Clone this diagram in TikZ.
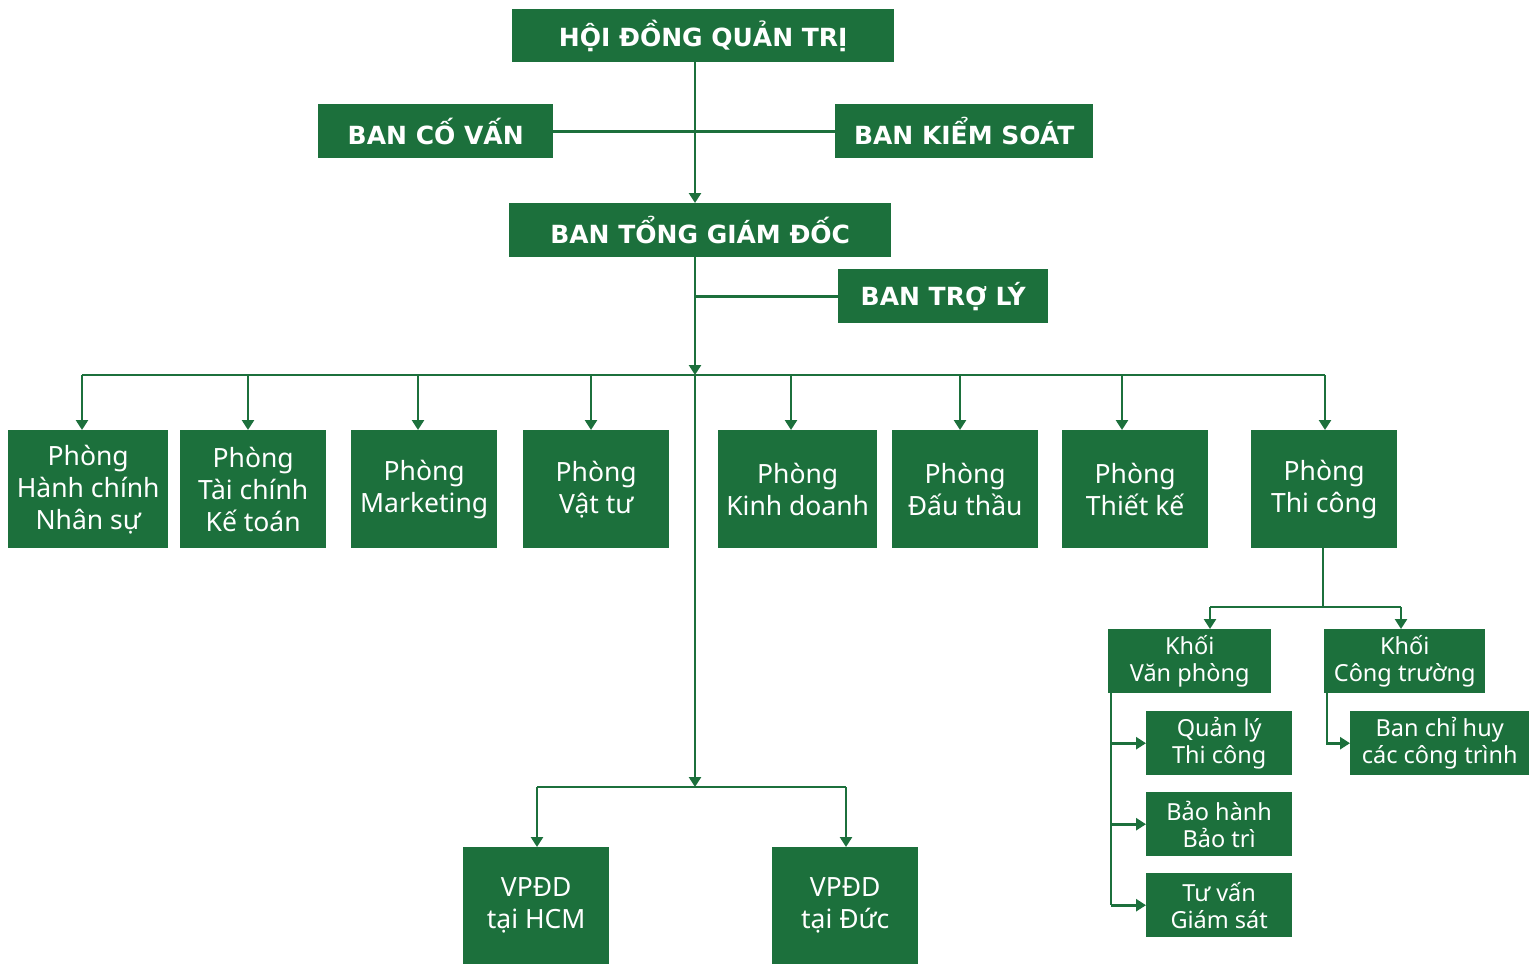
\documentclass[tikz,border=0pt]{standalone}
\usepackage{fontspec}
\setmainfont{Noto Sans}
\newfontfamily\hdrfont{DejaVu Sans}
\usetikzlibrary{arrows.meta}
\definecolor{vg}{RGB}{28,112,60}
\begin{document}
\begin{tikzpicture}[x=1pt,y=-1pt,
  box/.style={fill=vg, text=white, inner sep=0pt, align=center, anchor=north west},
  hdr/.style={box, font=\hdrfont\bfseries\fontsize{25}{30}\selectfont},
  dept/.style={box, font=\fontsize{26.5}{32}\selectfont},
  sm/.style={box, font=\fontsize{23.5}{27}\selectfont},
  ln/.style={draw=vg, line width=2.8pt},
  arr/.style={ln, -{Triangle[width=12pt,length=10pt]}}]
\useasboundingbox (0,0) rectangle (1529,964);
% top
\node[hdr, minimum width=382pt, minimum height=53pt] (hdqt) at (512,9) {HỘI ĐỒNG QUẢN TRỊ};
\node[hdr, minimum width=235pt, minimum height=54pt] (bcv) at (318,104) {BAN CỐ VẤN};
\node[hdr, minimum width=258pt, minimum height=54pt] (bks) at (835,104) {BAN KIỂM SOÁT};
\node[hdr, minimum width=382pt, minimum height=54pt] (btgd) at (509,203) {BAN TỔNG GIÁM ĐỐC};
\node[hdr, minimum width=210pt, minimum height=54pt] (btl) at (838,269) {BAN TRỢ LÝ};
% departments
\node[dept, minimum width=160pt, minimum height=118pt] (hc) at (8,430) {Phòng\\Hành chính\\Nhân sự};
\node[dept, minimum width=146pt, minimum height=118pt] (tcn) at (180,430) {Phòng\\Tài chính\\Kế toán};
\node[dept, minimum width=146pt, minimum height=118pt] (mk) at (351,430) {Phòng\\Marketing};
\node[dept, minimum width=146pt, minimum height=118pt] (vt) at (523,430) {Phòng\\Vật tư};
\node[dept, minimum width=159pt, minimum height=118pt] (kd) at (718,430) {Phòng\\Kinh doanh};
\node[dept, minimum width=146pt, minimum height=118pt] (dt) at (892,430) {Phòng\\Đấu thầu};
\node[dept, minimum width=146pt, minimum height=118pt] (tk) at (1062,430) {Phòng\\Thiết kế};
\node[dept, minimum width=146pt, minimum height=118pt] (tc) at (1251,430) {Phòng\\Thi công};
% sub-blocks
\node[sm, minimum width=163pt, minimum height=64pt] (kvp) at (1108,629) {Khối\\Văn phòng};
\node[sm, minimum width=161pt, minimum height=64pt] (kct) at (1324,629) {Khối\\Công trường};
\node[sm, minimum width=146pt, minimum height=64pt] (ql) at (1146,711) {Quản lý\\Thi công};
\node[sm, minimum width=146pt, minimum height=64pt] (bh) at (1146,792) {Bảo hành\\Bảo trì};
\node[sm, minimum width=146pt, minimum height=64pt] (tv) at (1146,873) {Tư vấn\\Giám sát};
\node[sm, minimum width=179pt, minimum height=64pt] (bch) at (1350,711) {Ban chỉ huy\\các công trình};
% offices
\node[dept, minimum width=146pt, minimum height=117pt] (hcm) at (463,847) {VPĐD\\tại HCM};
\node[dept, minimum width=146pt, minimum height=117pt] (duc) at (772,847) {VPĐD\\tại Đức};
% coordinates
\coordinate (sp) at (695,0);
\coordinate (bus) at (695,375);
\coordinate (d1) at (82,375);
\coordinate (d2) at (248,375);
\coordinate (d3) at (418,375);
\coordinate (d4) at (591,375);
\coordinate (d5) at (791,375);
\coordinate (d6) at (960,375);
\coordinate (d7) at (1122,375);
\coordinate (d8) at (1325,375);
\coordinate (vb) at (695,787);
\coordinate (v1) at (537,787);
\coordinate (v2) at (846,787);
\coordinate (tb) at (1323,607);
\coordinate (t1) at (1210,607);
\coordinate (t2) at (1401,607);
\coordinate (lx) at (1111,0);
\coordinate (cx) at (1327,0);
% connectors
\draw[arr] (hdqt.south -| sp) -- (btgd.north -| sp);
\draw[ln] (bcv.east) -- (bks.west);
\draw[arr] (btgd.south -| sp) -- (bus);
\draw[ln] (bus |- btl.west) -- (btl.west);
\draw[ln] (d1) -- (d8);
\draw[arr] (d1) -- (d1 |- hc.north);
\draw[arr] (d2) -- (d2 |- tcn.north);
\draw[arr] (d3) -- (d3 |- mk.north);
\draw[arr] (d4) -- (d4 |- vt.north);
\draw[arr] (d5) -- (d5 |- kd.north);
\draw[arr] (d6) -- (d6 |- dt.north);
\draw[arr] (d7) -- (d7 |- tk.north);
\draw[arr] (d8) -- (d8 |- tc.north);
\draw[arr] (bus) -- (vb);
\draw[ln] (v1) -- (v2);
\draw[arr] (v1) -- (v1 |- hcm.north);
\draw[arr] (v2) -- (v2 |- duc.north);
\draw[ln] (tc.south -| tb) -- (tb);
\draw[ln] (t1) -- (t2);
\draw[arr] (t1) -- (t1 |- kvp.north);
\draw[arr] (t2) -- (t2 |- kct.north);
\draw[ln] (kvp.south -| lx) -- (lx |- tv.west);
\draw[arr] (lx |- ql.west) -- (ql.west);
\draw[arr] (lx |- bh.west) -- (bh.west);
\draw[arr] (lx |- tv.west) -- (tv.west);
\draw[arr] (kct.south -| cx) |- (bch.west);
\end{tikzpicture}
\end{document}
